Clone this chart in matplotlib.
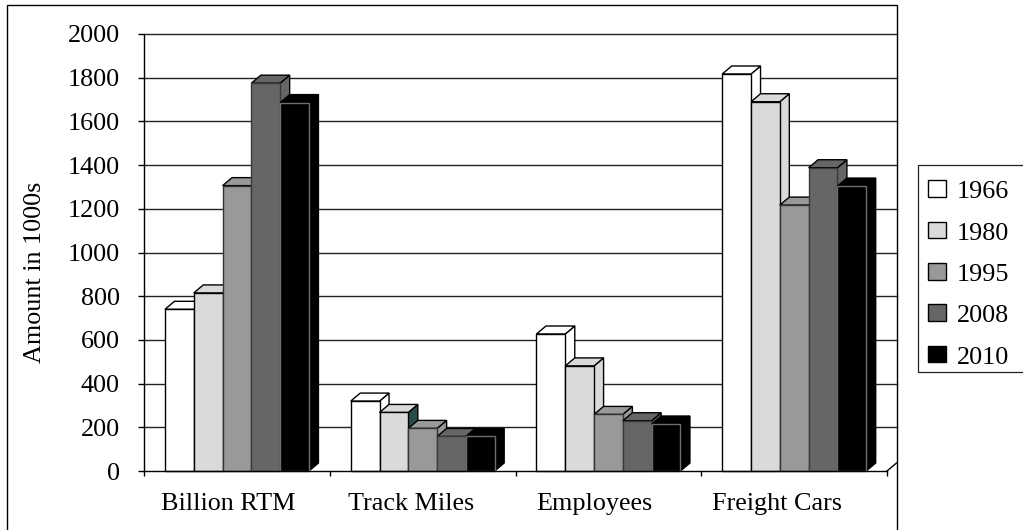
import numpy as np
import matplotlib
matplotlib.use("Agg")
import matplotlib.pyplot as plt
from matplotlib.patches import Polygon, Rectangle

plt.rcParams["font.family"] = ["Liberation Serif", "DejaVu Serif"]

categories = ["Billion RTM", "Track Miles", "Employees", "Freight Cars"]
years = ["1966", "1980", "1995", "2008", "2010"]
v1966 = [740, 320, 627, 1817]
v1980 = [815, 268, 481, 1690]
v1995 = [1306, 195, 259, 1217]
v2008 = [1775, 158, 230, 1388]
v2010 = [1686, 158, 215, 1304]
series = [v1966, v1980, v1995, v2008, v2010]
yticks = list(range(0, 2001, 200))

fills = ["#ffffff", "#dadada", "#999999", "#666666", "#000000"]
edges = ["#000000", "#000000", "#333333", "#3a3a3a", "#6e6e6e"]
# one side face rendered in an odd dark teal
side_override = {(1, 1): "#2b4a4a"}

W, H = 1023, 530
fig = plt.figure(figsize=(W / 100, H / 100), dpi=100)

# plot area in pixels
L, R, T, B = 144, 887, 34, 471
ax = fig.add_axes([L / W, 1 - B / H, (R - L) / W, (B - T) / H])
ax.set_xlim(0, 4)
ax.set_ylim(0, 2000)

# depth offset of the 3-D boxes, converted to data units
dxp, dyp = 9.5, 8.0
ddx = dxp / (R - L) * 4
ddy = dyp / (B - T) * 2000

# back-wall gridlines
for v in yticks[1:]:
    ax.plot([0, 4 + ddx], [v, v], color="#222222", lw=1.0, clip_on=False, zorder=1)

# floor: right edge going back
ax.plot([4, 4 + ddx], [0, ddy], color="#000000", lw=1.0, clip_on=False, zorder=1)

gap, bw = 0.113, 0.155
for ci in range(len(categories)):
    for si, vals in enumerate(series):
        h = vals[ci]
        x0 = ci + gap + si * bw
        x1 = x0 + bw
        fc = fills[si]
        ec = edges[si]
        sc = side_override.get((ci, si), fc)
        side = Polygon([(x1, 0), (x1 + ddx, ddy), (x1 + ddx, h + ddy), (x1, h)],
                       closed=True, facecolor=sc, edgecolor="#000000", lw=1.0,
                       clip_on=False, zorder=2)
        top = Polygon([(x0, h), (x0 + ddx, h + ddy), (x1 + ddx, h + ddy), (x1, h)],
                      closed=True, facecolor=fc, edgecolor="#000000", lw=1.0,
                      clip_on=False, zorder=2)
        front = Polygon([(x0, 0), (x0, h), (x1, h), (x1, 0)], closed=True,
                        facecolor=fc, edgecolor=ec, lw=1.0, clip_on=False, zorder=2)
        ax.add_patch(side)
        ax.add_patch(top)
        ax.add_patch(front)

for s in ["top", "right"]:
    ax.spines[s].set_visible(False)
ax.spines["left"].set_linewidth(1.0)
ax.spines["bottom"].set_linewidth(1.0)
ax.spines["left"].set_zorder(3)
ax.spines["bottom"].set_zorder(3)
ax.patch.set_visible(False)

ax.set_yticks(yticks)
ax.set_yticklabels([str(v) for v in yticks], fontsize=18.8)
ax.tick_params(axis="y", length=4.3, width=1.0, pad=13)

ax.set_xticks(range(5))
ax.set_xticklabels([])
ax.tick_params(axis="x", which="major", length=3.6, width=1.0)
ax.set_xticks([0.452 + 0.985 * i for i in range(len(categories))], minor=True)
ax.set_xticklabels(categories, minor=True, fontsize=18.8)
ax.tick_params(axis="x", which="minor", length=0, pad=16)

fig.text(35 / W, 1 - 272 / H, "Amount in 1000s", rotation=90, fontsize=18.8,
         ha="center", va="center")

# chart area border
fig.add_artist(Rectangle((7 / W, -0.02), (897 - 7) / W, 0.02 + 1 - 5 / H,
                         transform=fig.transFigure, fill=False,
                         edgecolor="#000000", lw=1.0))

# legend box
fig.add_artist(Rectangle((918 / W, 1 - 372 / H), 0.2, (372 - 165) / H,
                         transform=fig.transFigure, fill=False,
                         edgecolor="#222222", lw=0.9))
for k, yr in enumerate(years):
    yb = 198.5 + 41.25 * k
    fig.add_artist(Rectangle((928 / W, 1 - (yb - 1.5) / H), 18 / W, 16.5 / H,
                             transform=fig.transFigure, facecolor=fills[k],
                             edgecolor="#000000", lw=1.0))
    fig.text(956.5 / W, 1 - yb / H, yr, fontsize=18.8, ha="left", va="baseline")

fig.savefig("out.png", dpi=100)
